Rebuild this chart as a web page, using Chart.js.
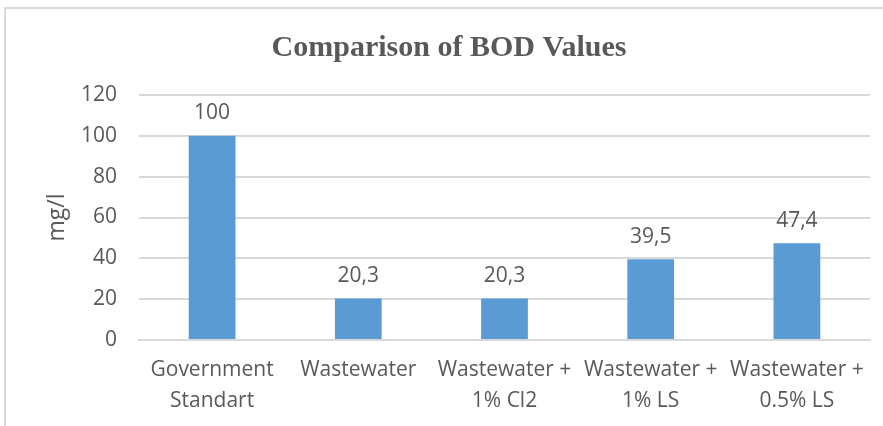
<!DOCTYPE html>
<html>
<head>
<meta charset="utf-8">
<script src="https://cdn.jsdelivr.net/npm/chart.js@4/dist/chart.umd.min.js"></script>
<style>
  html, body { margin: 0; padding: 0; background: #fff; }
  #wrap { position: relative; width: 883px; height: 426px; }
  #frame { position: absolute; left: 4px; top: 7px; width: 900px; height: 440px; border-left: 2px solid #d9d9d9; border-top: 2px solid #d9d9d9; }
  canvas { position: absolute; left: 0; top: 0; }
</style>
</head>
<body>
<div id="wrap">
  <div id="frame"></div>
  <canvas id="bodChart" width="883" height="426"></canvas>
</div>
<script>
const categories = [
  ['Government', 'Standart'],
  ['Wastewater'],
  ['Wastewater +', '1% Cl2'],
  ['Wastewater +', '1% LS'],
  ['Wastewater +', '0.5% LS']
];
const bodValues = [100, 20.3, 20.3, 39.5, 47.4];
const yTicks = [0, 20, 40, 60, 80, 100, 120];
const yTitle = 'mg/l';

const textColor = '#595959';
const gridColor = '#d9d9d9';
const barColor = '#5b9bd5';

function commaNumber(v) {
  return String(v).replace('.', ',');
}

// labels on top of bars, comma decimal like the source
const barLabels = {
  id: 'barLabels',
  afterDatasetsDraw(chart) {
    const ctx = chart.ctx;
    const meta = chart.getDatasetMeta(0);
    ctx.save();
    ctx.font = '21px "Open Sans"';
    ctx.fillStyle = textColor;
    ctx.textAlign = 'center';
    ctx.textBaseline = 'bottom';
    meta.data.forEach((bar, i) => {
      ctx.fillText(commaNumber(bodValues[i]), bar.x, bar.y - 12);
    });
    ctx.restore();
  }
};

// axis title placed by hand so it sits where the source has it
const axisTitle = {
  id: 'axisTitle',
  afterDraw(chart) {
    const ctx = chart.ctx;
    const area = chart.chartArea;
    ctx.save();
    ctx.translate(57, (area.top + area.bottom) / 2);
    ctx.rotate(-Math.PI / 2);
    ctx.font = '23px "Open Sans"';
    ctx.fillStyle = textColor;
    ctx.textAlign = 'center';
    ctx.textBaseline = 'middle';
    ctx.fillText(yTitle, 0, 0);
    ctx.restore();
  }
};

new Chart(document.getElementById('bodChart'), {
  type: 'bar',
  data: {
    labels: categories,
    datasets: [{
      data: bodValues,
      backgroundColor: barColor,
      categoryPercentage: 1,
      barPercentage: 0.32
    }]
  },
  options: {
    responsive: false,
    animation: false,
    devicePixelRatio: 1,
    layout: { padding: { left: 28, right: 13, top: 0, bottom: 0 } },
    plugins: {
      legend: { display: false },
      tooltip: { enabled: false },
      title: {
        display: true,
        text: 'Comparison of BOD Values',
        color: textColor,
        font: { family: '"Liberation Serif", serif', size: 30, weight: 'bold' },
        padding: { top: 30, bottom: 29 }
      }
    },
    scales: {
      x: {
        grid: { display: false, drawTicks: false },
        border: { color: gridColor, width: 2 },
        ticks: {
          color: textColor,
          font: { family: '"Open Sans"', size: 21, lineHeight: 1.5 },
          padding: 14,
          maxRotation: 0,
          autoSkip: false
        },
        afterFit(scale) { scale.height = 86; }
      },
      y: {
        min: 0,
        max: 120,
        afterBuildTicks(scale) { scale.ticks = yTicks.map(v => ({ value: v })); },
        grid: { color: gridColor, lineWidth: 2, drawTicks: false },
        border: { display: false },
        ticks: {
          color: textColor,
          font: { family: '"Open Sans"', size: 21 },
          padding: 22
        },
        afterFit(scale) { scale.width = 111; }
      }
    }
  },
  plugins: [barLabels, axisTitle]
});
</script>
</body>
</html>
